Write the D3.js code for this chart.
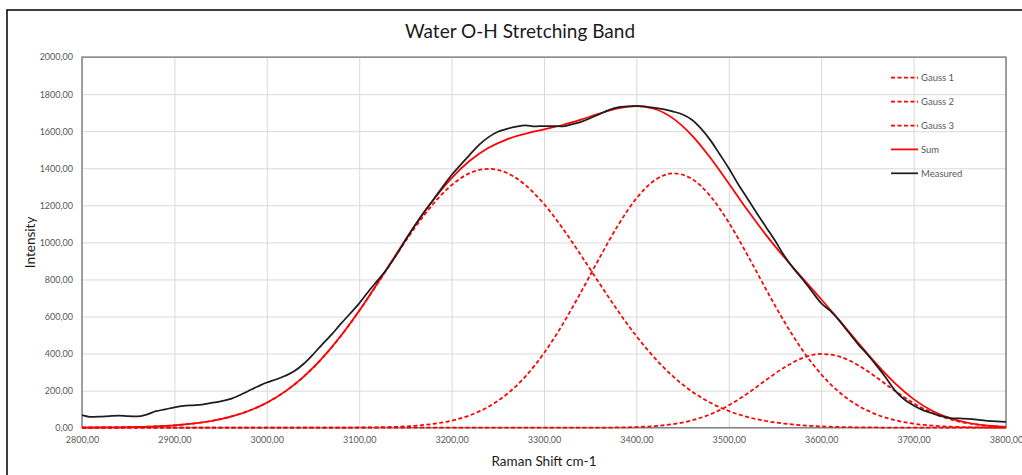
<!DOCTYPE html>
<html>
<head>
<meta charset="utf-8">
<script src="https://cdn.jsdelivr.net/npm/d3@7"></script>
<style>
  html, body { margin: 0; padding: 0; background: #ffffff; }
  svg { display: block; font-family: Lato, "Liberation Sans", sans-serif; }
</style>
</head>
<body>
<svg id="chart" width="1022" height="475"></svg>
<script>
// Raman shift (cm-1) sampling of the fitted components
const shiftFit = [2800,2820,2840,2860,2880,2900,2920,2940,2960,2980,
  3000,3020,3040,3060,3080,3100,3120,3140,3160,3180,
  3200,3220,3240,3260,3280,3300,3320,3340,3360,3380,
  3400,3420,3440,3460,3480,3500,3520,3540,3560,3580,
  3600,3620,3640,3660,3680,3700,3720,3740,3760,3780,3800];

const gauss1 = [0.5,1.1,2.1,4.0,7.3,12.8,21.9,36.2,58.0,89.9,
  135.0,196.0,275.6,375.1,494.3,630.6,778.8,931.0,1077.5,1207.2,
  1309.1,1374.5,1397.0,1374.5,1309.1,1207.2,1077.5,931.0,778.8,630.6,
  494.3,375.1,275.6,196.0,135.0,89.9,58.0,36.2,21.9,12.8,
  7.3,4.0,2.1,1.1,0.5,0.3,0.1,0.1,0.0,0.0,0.0];

const gauss2 = [0,0,0,0,0,0,0,0,0,0,
  0.0,0.0,0.1,0.2,0.4,1.1,2.4,5.1,10.5,20.5,
  38.1,67.3,113.4,181.8,277.2,402.4,556.1,731.5,915.8,1091.3,
  1237.6,1336.1,1372.9,1342.8,1250.0,1107.5,933.9,749.8,572.8,416.6,
  288.3,190.0,119.1,71.1,40.4,21.8,11.2,5.5,2.6,1.1,0.5];

const gauss3 = [0,0,0,0,0,0,0,0,0,0,
  0,0,0,0,0,0,0,0,0,0,
  0,0,0,0,0,0.0,0.0,0.2,0.5,1.4,
  3.7,8.9,19.6,39.3,72.1,120.6,184.0,256.0,325.1,376.5,
  397.8,383.5,337.2,270.5,198.0,132.2,80.5,44.7,22.7,10.5,4.4];

const sumFit = [0.5,1.1,2.1,4.0,7.3,12.8,21.9,36.2,58.0,89.9,
  135.0,196.0,275.7,375.3,494.7,631.7,781.2,936.1,1088.0,1227.7,
  1347.2,1441.8,1510.4,1556.3,1586.3,1609.6,1633.6,1662.7,1695.1,1723.3,
  1735.6,1720.1,1668.1,1578.1,1457.1,1318.0,1175.9,1042.0,919.8,805.9,
  693.4,577.5,458.4,342.7,238.9,154.3,91.8,50.3,25.3,11.6,4.9];

// Measured spectrum
const shiftMeasured = [2800,2810,2820,2830,2840,2850,2860,2870,2880,2890,
  2900,2910,2920,2930,2940,2950,2960,2970,2980,2990,
  3000,3010,3020,3030,3040,3050,3060,3070,3080,3090,
  3100,3110,3120,3130,3140,3150,3160,3170,3180,3190,
  3200,3210,3220,3230,3240,3250,3260,3270,3280,3290,
  3300,3310,3320,3330,3340,3350,3360,3370,3380,3390,
  3400,3410,3420,3430,3440,3450,3460,3470,3480,3490,
  3500,3510,3520,3530,3540,3550,3560,3570,3580,3590,
  3600,3610,3620,3630,3640,3650,3660,3670,3680,3690,
  3700,3710,3720,3730,3740,3750,3760,3770,3780,3790,3800];

const measured = [68,58,60,63,65,62,61,71,89,99,
  110,118,121,125,134,142,154,174,198,222,
  244,260,280,306,345,395,450,502,560,615,
  671,735,795,857,930,1012,1090,1163,1229,1298,
  1364,1420,1475,1528,1568,1597,1613,1625,1632,1626,
  1628,1628,1626,1637,1650,1670,1692,1714,1729,1734,
  1737,1733,1726,1718,1706,1690,1662,1614,1552,1477,
  1400,1315,1238,1160,1085,1010,928,860,800,735,
  672,630,575,512,450,395,335,270,200,152,
  120,95,78,62,52,50,48,42,37,34,32];

// Axis ticks
const xTicks = [2800,2900,3000,3100,3200,3300,3400,3500,3600,3700,3800];
const yTicks = [0,200,400,600,800,1000,1200,1400,1600,1800,2000];

const seriesNames = ["Gauss 1", "Gauss 2", "Gauss 3", "Sum", "Measured"];

const W = 1022, H = 475;
const plot = { left: 82, right: 1006, top: 57.1, bottom: 427.7 };

const svg = d3.select("#chart");

// outer chart border
svg.append("rect")
  .attr("x", 7).attr("y", 10)
  .attr("width", W + 20).attr("height", H + 20)
  .attr("fill", "#ffffff")
  .attr("stroke", "#000000")
  .attr("stroke-width", 1.5);

const x = d3.scaleLinear().domain([2800, 3800]).range([plot.left, plot.right]);
const y = d3.scaleLinear().domain([0, 2000]).range([plot.bottom, plot.top]);

const comma = d3.formatLocale({ decimal: ",", thousands: ".", grouping: [3], currency: ["", ""] });
const fmt = comma.format(".2f");

// gridlines
svg.append("g")
  .attr("transform", `translate(0,${plot.bottom})`)
  .call(d3.axisBottom(x).tickValues(xTicks).tickSize(-(plot.bottom - plot.top)).tickFormat(""))
  .call(g => g.select(".domain").remove())
  .call(g => g.selectAll("line").attr("stroke", "#d9d9d9").attr("stroke-width", 1));

svg.append("g")
  .attr("transform", `translate(${plot.left},0)`)
  .call(d3.axisLeft(y).tickValues(yTicks).tickSize(-(plot.right - plot.left)).tickFormat(""))
  .call(g => g.select(".domain").remove())
  .call(g => g.selectAll("line").attr("stroke", "#d9d9d9").attr("stroke-width", 1));

// tick labels
svg.append("g")
  .attr("transform", `translate(0,${plot.bottom})`)
  .call(d3.axisBottom(x).tickValues(xTicks).tickSize(0).tickPadding(9).tickFormat(fmt))
  .call(g => g.select(".domain").remove())
  .call(g => g.selectAll("text").attr("fill", "#595959").attr("font-size", 9)
    .attr("font-family", "Lato, 'Liberation Sans', sans-serif"));

svg.append("g")
  .attr("transform", `translate(${plot.left},0)`)
  .call(d3.axisLeft(y).tickValues(yTicks).tickSize(0).tickPadding(9).tickFormat(fmt))
  .call(g => g.select(".domain").remove())
  .call(g => g.selectAll("text").attr("fill", "#595959").attr("font-size", 9)
    .attr("font-family", "Lato, 'Liberation Sans', sans-serif"));

// plot frame
svg.append("rect")
  .attr("x", plot.left).attr("y", plot.top)
  .attr("width", plot.right - plot.left).attr("height", plot.bottom - plot.top)
  .attr("fill", "none")
  .attr("stroke", "#848484")
  .attr("stroke-width", 1.5);

const line = d3.line()
  .x(d => x(d[0]))
  .y(d => y(d[1]))
  .curve(d3.curveMonotoneX);

const pair = (xs, ys) => xs.map((v, i) => [v, ys[i]]);

const series = [
  { name: seriesNames[0], xs: shiftFit, ys: gauss1, color: "#ff0000", dash: "4,2.5", width: 1.75 },
  { name: seriesNames[1], xs: shiftFit, ys: gauss2, color: "#ff0000", dash: "4,2.5", width: 1.75 },
  { name: seriesNames[2], xs: shiftFit, ys: gauss3, color: "#ff0000", dash: "4,2.5", width: 1.75 },
  { name: seriesNames[3], xs: shiftFit, ys: sumFit, color: "#ff0000", dash: null, width: 1.75 },
  { name: seriesNames[4], xs: shiftMeasured, ys: measured, color: "#1e1e1e", dash: null, width: 1.75 }
];

svg.append("g").selectAll("path")
  .data(series)
  .join("path")
  .attr("d", s => line(pair(s.xs, s.ys)))
  .attr("fill", "none")
  .attr("stroke", s => s.color)
  .attr("stroke-width", s => s.width)
  .attr("stroke-dasharray", s => s.dash)
  .attr("stroke-linejoin", "round");

// legend
const legend = svg.append("g").attr("transform", "translate(891,77.7)");
const item = legend.selectAll("g")
  .data(series)
  .join("g")
  .attr("transform", (s, i) => `translate(0,${i * 23.9})`);
item.append("line")
  .attr("x1", 0).attr("x2", 27).attr("y1", 0).attr("y2", 0)
  .attr("stroke", s => s.color)
  .attr("stroke-width", s => s.width)
  .attr("stroke-dasharray", s => s.dash);
item.append("text")
  .attr("x", 30).attr("y", 0)
  .attr("dy", "0.35em")
  .attr("font-size", 9.5)
  .attr("fill", "#595959")
  .text(s => s.name);

// titles
svg.append("text")
  .attr("x", 520).attr("y", 38)
  .attr("text-anchor", "middle")
  .attr("font-size", 19)
  .attr("fill", "#1a1a1a")
  .text("Water O-H Stretching Band");

svg.append("text")
  .attr("transform", `translate(35,${(plot.top + plot.bottom) / 2}) rotate(-90)`)
  .attr("text-anchor", "middle")
  .attr("font-size", 13.5)
  .attr("fill", "#1a1a1a")
  .text("Intensity");

svg.append("text")
  .attr("x", 544).attr("y", 466)
  .attr("text-anchor", "middle")
  .attr("font-size", 13.5)
  .attr("fill", "#1a1a1a")
  .text("Raman Shift cm-1");
</script>
</body>
</html>
